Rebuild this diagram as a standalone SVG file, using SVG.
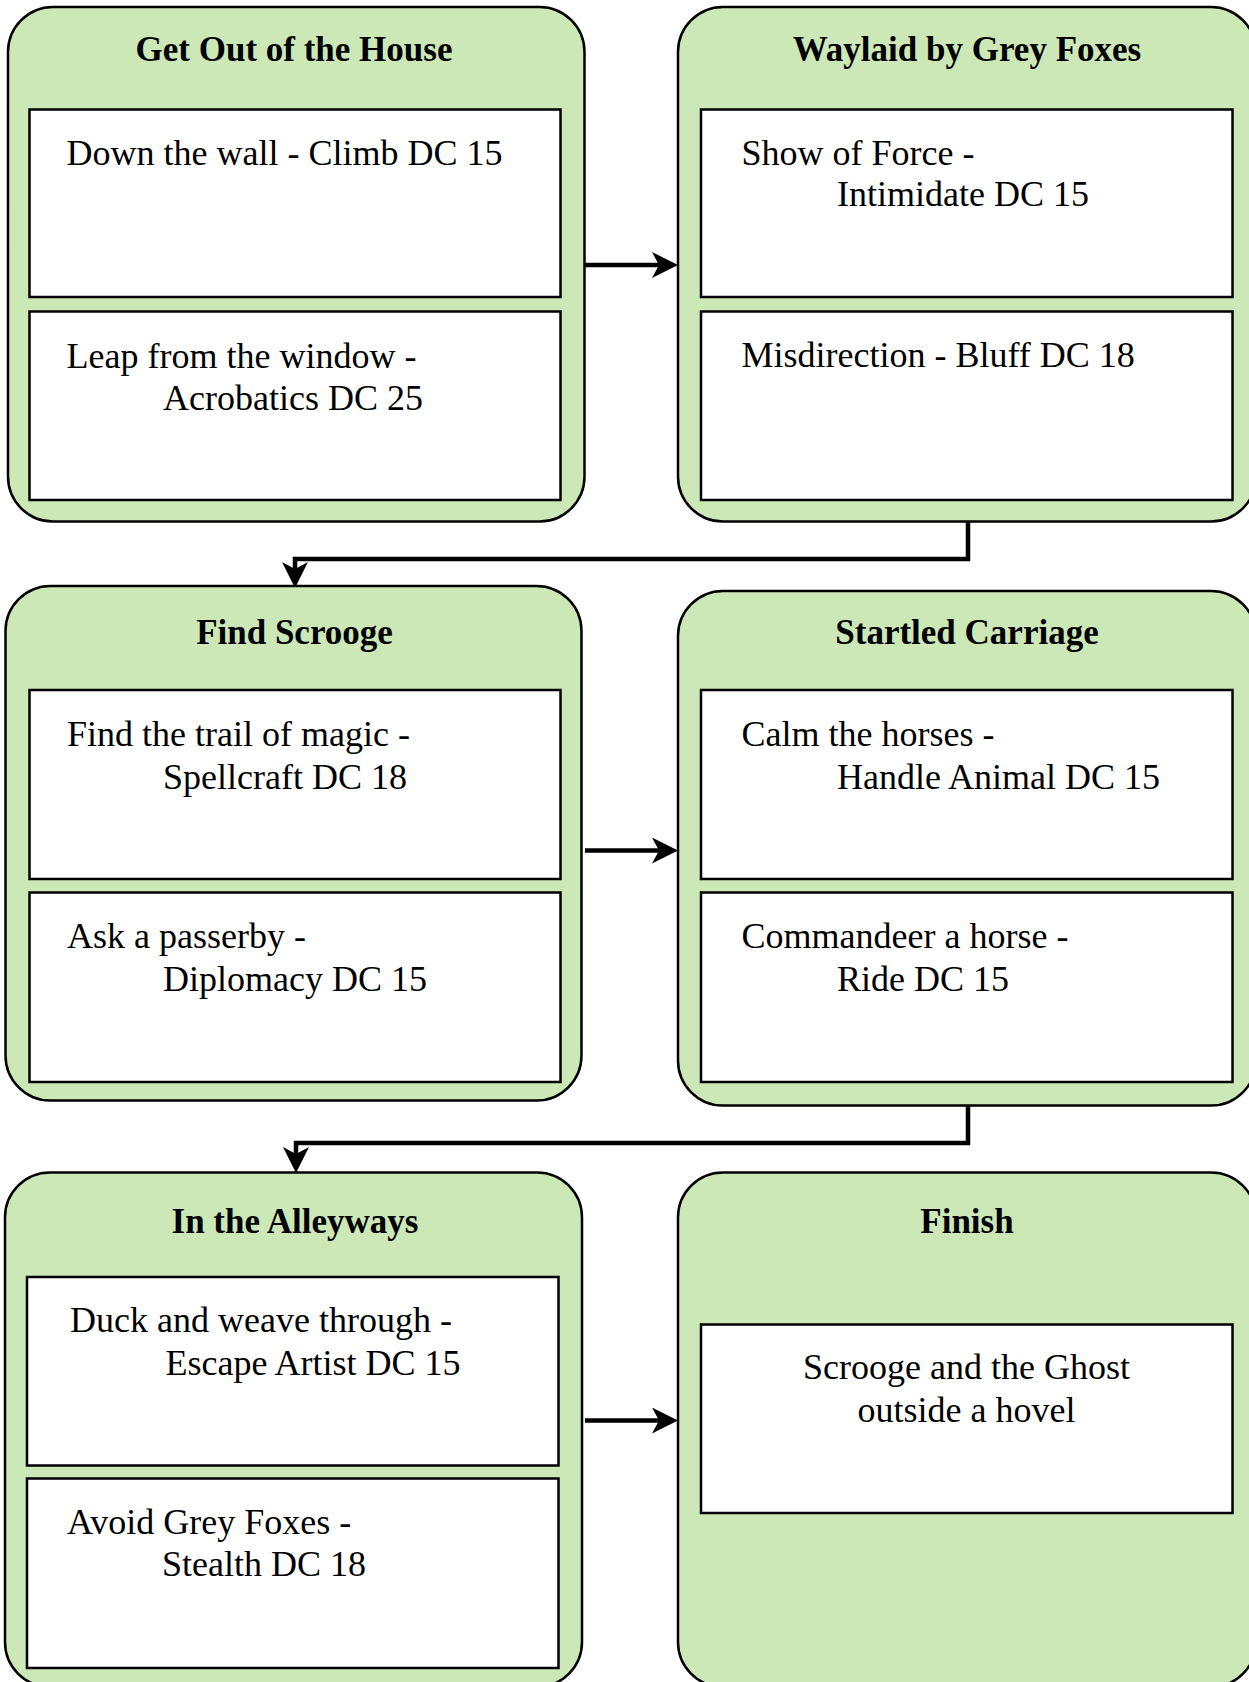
<svg xmlns="http://www.w3.org/2000/svg" width="1249" height="1682" viewBox="0 0 1249 1682">
<style>
.outer{fill:#cde8b7;stroke:#000;stroke-width:2.5}
.inner{fill:#fff;stroke:#000;stroke-width:2.5}
.title{font-family:"Liberation Serif",serif;font-weight:bold;font-size:35px;fill:#000;text-anchor:middle}
.txt{font-family:"Liberation Serif",serif;font-size:36px;fill:#000}
.ctr{text-anchor:middle}
.conn{fill:none;stroke:#000;stroke-width:4.5;marker-end:url(#arr)}
</style>
<defs>
<marker id="arr" markerUnits="userSpaceOnUse" markerWidth="26" markerHeight="26" viewBox="0 0 26 26" refX="18" refY="13" orient="auto">
<path d="M0,0 L26,13 L0,26 L7,13 Z" fill="#000"/>
</marker>
</defs>
<g id="connectors">
<path class="conn" d="M585,265 H670"/>
<path class="conn" d="M968,522 V559 H295 V580"/>
<path class="conn" d="M585,850.5 H670"/>
<path class="conn" d="M968,1106 V1143 H296 V1165"/>
<path class="conn" d="M585,1420.5 H670"/>
</g>
<g id="node-get-out">
<rect class="outer" x="8" y="7" width="576.5" height="514.5" rx="45"/>
<text class="title" x="294" y="61">Get Out of the House</text>
<rect class="inner" x="29.5" y="109.5" width="531" height="187.5"/>
<text class="txt" x="66.5" y="164.5">Down the wall - Climb DC 15</text>
<rect class="inner" x="29.5" y="311.5" width="531" height="188.5"/>
<text class="txt" x="66.5" y="367.5">Leap from the window -</text>
<text class="txt" x="163" y="409.5">Acrobatics DC 25</text>
</g>
<g id="node-waylaid">
<rect class="outer" x="678" y="7" width="578" height="514.5" rx="45"/>
<text class="title" x="967" y="61">Waylaid by Grey Foxes</text>
<rect class="inner" x="701" y="109.5" width="531.5" height="187.5"/>
<text class="txt" x="741.5" y="164.5">Show of Force -</text>
<text class="txt" x="837" y="206">Intimidate DC 15</text>
<rect class="inner" x="701" y="311.5" width="531.5" height="188.5"/>
<text class="txt" x="741.5" y="366.5">Misdirection - Bluff DC 18</text>
</g>
<g id="node-find-scrooge">
<rect class="outer" x="5.5" y="586" width="576" height="514.5" rx="45"/>
<text class="title" x="294.5" y="644">Find Scrooge</text>
<rect class="inner" x="29.5" y="690" width="531" height="189"/>
<text class="txt" x="67" y="745.5">Find the trail of magic -</text>
<text class="txt" x="163" y="788.5">Spellcraft DC 18</text>
<rect class="inner" x="29.5" y="892.5" width="531" height="189.5"/>
<text class="txt" x="67" y="947.5">Ask a passerby -</text>
<text class="txt" x="163" y="990.5">Diplomacy DC 15</text>
</g>
<g id="node-startled-carriage">
<rect class="outer" x="678" y="591" width="578" height="514.5" rx="45"/>
<text class="title" x="967" y="644">Startled Carriage</text>
<rect class="inner" x="701" y="690" width="531.5" height="189"/>
<text class="txt" x="741.5" y="745.5">Calm the horses -</text>
<text class="txt" x="837" y="788.5">Handle Animal DC 15</text>
<rect class="inner" x="701" y="892.5" width="531.5" height="189.5"/>
<text class="txt" x="741.5" y="947.5">Commandeer a horse -</text>
<text class="txt" x="837" y="990.5">Ride DC 15</text>
</g>
<g id="node-alleyways">
<rect class="outer" x="5" y="1172.5" width="577" height="514.5" rx="45"/>
<text class="title" x="295" y="1233">In the Alleyways</text>
<rect class="inner" x="27" y="1277" width="531.5" height="188.5"/>
<text class="txt" x="70" y="1332">Duck and weave through -</text>
<text class="txt" x="165.5" y="1374.5">Escape Artist DC 15</text>
<rect class="inner" x="27" y="1478.5" width="531.5" height="189.5"/>
<text class="txt" x="67" y="1533.5">Avoid Grey Foxes -</text>
<text class="txt" x="162" y="1576">Stealth DC 18</text>
</g>
<g id="node-finish">
<rect class="outer" x="678" y="1172.5" width="578" height="514.5" rx="45"/>
<text class="title" x="967" y="1233">Finish</text>
<rect class="inner" x="701" y="1324.5" width="531.5" height="188.5"/>
<text class="txt ctr" x="966.5" y="1379">Scrooge and the Ghost</text>
<text class="txt ctr" x="966.5" y="1422">outside a hovel</text>
</g>
</svg>
